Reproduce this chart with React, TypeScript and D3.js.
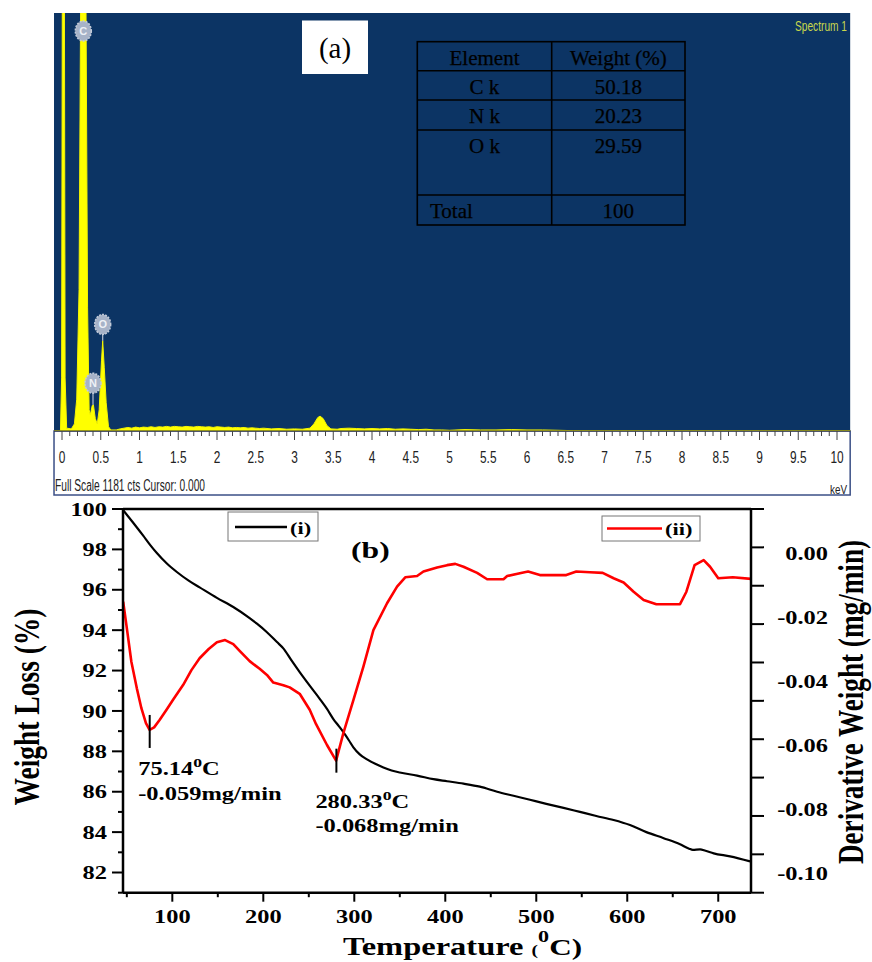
import React from 'react';
import * as d3 from 'd3';

// ---------------- DATA ----------------
// (a) EDS spectrum: [keV, counts]
const EDS_SPECTRUM: [number, number][] = [
  [-0.1, 0], [-0.02, 0], [-0.005, 150], [0.005, 1400], [0.03, 1400], [0.04, 150], [0.06, 8], [0.12, 6],
  [0.16, 20], [0.19, 90], [0.22, 400], [0.245, 1400], [0.305, 1400], [0.33, 350], [0.35, 60], [0.365, 45],
  [0.39, 72], [0.405, 74], [0.43, 35], [0.455, 20], [0.48, 60], [0.51, 200], [0.525, 255], [0.545, 180],
  [0.57, 80], [0.6, 12], [0.63, 3], [0.7, 3], [0.75, 6],
  [0.8, 8], [0.85, 10], [0.9, 8], [0.95, 11], [1.0, 9], [1.05, 11], [1.1, 10], [1.15, 12], [1.2, 10],
  [1.25, 12], [1.3, 11], [1.35, 13], [1.4, 11], [1.45, 13], [1.5, 12], [1.55, 11], [1.6, 13], [1.65, 12],
  [1.7, 11], [1.75, 13], [1.8, 12], [1.85, 11], [1.9, 12], [1.95, 10], [2.0, 12], [2.05, 11], [2.1, 10],
  [2.15, 11], [2.2, 9], [2.25, 10], [2.3, 9], [2.35, 10], [2.4, 8], [2.45, 9], [2.5, 8], [2.55, 7], [2.6, 8],
  [2.7, 6], [2.8, 7], [2.9, 5], [3.0, 6], [3.1, 5], [3.2, 8], [3.25, 20], [3.3, 38], [3.33, 42], [3.37, 35],
  [3.42, 15], [3.47, 6], [3.55, 5], [3.6, 7], [3.7, 8], [3.8, 7], [3.9, 6], [4.0, 7], [4.1, 6], [4.2, 7],
  [4.3, 5], [4.4, 6], [4.5, 5], [4.6, 4], [4.7, 5], [4.8, 3], [4.9, 3], [5.0, 2], [5.2, 4], [5.4, 3],
  [5.6, 3], [5.8, 4], [6.0, 3], [6.2, 3], [6.4, 2], [6.6, 1], [7.0, 0.5], [8.0, 0.5], [9.0, 0.5],
  [10.0, 0.5], [10.2, 0.5],
];
const EDS_TICK_VALUES = [0, 0.5, 1, 1.5, 2, 2.5, 3, 3.5, 4, 4.5, 5, 5.5, 6, 6.5, 7, 7.5, 8, 8.5, 9, 9.5, 10];
const EDS_ELEMENTS = ['C', 'N', 'O'];
const EDS_ELEMENT_KEV = [0.275, 0.4, 0.525];
const EDS_ELEMENT_BADGE_COUNTS = [1130, 135, 301];
const EDS_FULL_SCALE = 1181;

const TABLE_HEADER = ['Element', 'Weight (%)'];
const TABLE_ELEMENTS = ['C k', 'N k', 'O k'];
const TABLE_WEIGHTS = ['50.18', '20.23', '29.59'];
const TABLE_TOTAL = ['Total', '100'];

// (b) TGA (i): [temperature °C, weight %]
const TGA_CURVE: [number, number][] = [
  [45, 100.0], [57, 99.32], [68, 98.68], [76, 98.2], [83, 97.82], [94, 97.3], [105, 96.88], [118, 96.45],
  [130, 96.12], [149, 95.6], [167, 95.15], [185, 94.6], [193, 94.32], [204, 93.9], [215, 93.41], [222, 93.1],
  [231, 92.5], [240, 91.92], [251, 91.25], [262, 90.6], [270, 90.1], [277, 89.6], [283, 89.25], [288, 88.95],
  [294, 88.55], [299, 88.2], [306, 87.85], [314, 87.6], [323, 87.38], [332, 87.2], [341, 87.05], [350, 86.95],
  [369, 86.8], [387, 86.62], [402, 86.52], [420, 86.4], [438, 86.25], [457, 86.0], [475, 85.8], [493, 85.6],
  [511, 85.4], [530, 85.2], [548, 85.0], [566, 84.8], [585, 84.6], [603, 84.35], [621, 84.0], [640, 83.7],
  [658, 83.4], [668, 83.18], [672, 83.12], [680, 83.15], [686, 83.08], [695, 82.95], [713, 82.8], [735, 82.55],
];
// (b) DTG (ii): [temperature °C, derivative weight mg/min]
const DTG_CURVE: [number, number][] = [
  [46, -0.0152], [50, -0.0235], [55, -0.034], [61, -0.0423], [66, -0.0485], [71, -0.0532], [75, -0.0553],
  [80, -0.0545], [86, -0.0522], [94, -0.0488], [101, -0.0458], [112, -0.0412], [121, -0.0366], [130, -0.0329],
  [140, -0.03], [149, -0.0279], [158, -0.0272], [167, -0.0285], [174, -0.0306], [185, -0.0338], [196, -0.0362],
  [204, -0.0381], [211, -0.0405], [222, -0.0413], [229, -0.042], [240, -0.044], [251, -0.049], [258, -0.0535],
  [270, -0.06], [280, -0.0649], [288, -0.0563], [299, -0.046], [310, -0.0355], [321, -0.0241], [336, -0.0157],
  [347, -0.0105], [356, -0.0076], [369, -0.0072], [376, -0.0058], [391, -0.0045], [402, -0.0038], [411, -0.0034],
  [420, -0.0043], [435, -0.0062], [446, -0.0082], [464, -0.0082], [468, -0.0072], [482, -0.0063], [491, -0.0058],
  [504, -0.0069], [533, -0.0069], [544, -0.0058], [559, -0.006], [573, -0.0062], [585, -0.0079], [596, -0.0092],
  [607, -0.0121], [618, -0.0147], [632, -0.016], [658, -0.016], [665, -0.0121], [674, -0.0038], [684, -0.0022],
  [691, -0.0043], [700, -0.0079], [716, -0.0076], [736, -0.0081],
];
const TEMP_TICKS = [100, 200, 300, 400, 500, 600, 700];
const TEMP_MINOR_TICKS = [50, 150, 250, 350, 450, 550, 650];
const WEIGHT_TICKS = [82, 84, 86, 88, 90, 92, 94, 96, 98, 100];
const WEIGHT_MINOR_TICKS = [81, 83, 85, 87, 89, 91, 93, 95, 97, 99];
const DERIV_LABEL_VALUES = [0, -0.02, -0.04, -0.06, -0.08, -0.1];
const DERIV_TICK_MARKS = [0.01, 0, -0.01, -0.02, -0.03, -0.04, -0.05, -0.06, -0.07, -0.08, -0.09];
const PEAK_TEMPS = [75.14, 280.33];
const PEAK_TEMP_LABELS = ['75.14', '280.33'];
const PEAK_RATE_LABELS = ['-0.059mg/min', '-0.068mg/min'];
const LEGEND_LABELS = ['(i)', '(ii)'];

// ---------------- STYLE / LAYOUT ----------------
const SERIF = "'Liberation Serif','Times New Roman',Times,serif";
const SANS = "'Liberation Sans',Arial,Helvetica,sans-serif";
const SX = 1.32;
const EDS_BLUE = '#0c3464';
const YELLOW = '#ffff00';

const PEAK_LAYOUT = [
  { up: 15, down: 18, dx: -11.5, dy1: 27, dy2: 52 },
  { up: 12, down: 12, dx: -21, dy1: 35, dy2: 59 },
];

function BText(props: {
  x: number; y: number; size: number; anchor?: string; sx?: number; rotate?: number;
  dy?: string; weight?: string; fill?: string; children: React.ReactNode;
}) {
  const { x, y, size, anchor = 'start', sx = SX, rotate = 0, dy, weight = 'bold', fill = '#000', children } = props;
  return (
    <g transform={`translate(${x},${y}) scale(${sx},1)${rotate ? ` rotate(${rotate})` : ''}`}>
      <text x={0} y={0} dy={dy} textAnchor={anchor as any} fontSize={size} fontFamily={SERIF} fontWeight={weight} fill={fill}>
        {children}
      </text>
    </g>
  );
}

export default function App() {
  // ---- panel (a) scales
  const eX = d3.scaleLinear().domain([0, 10]).range([62, 837]);
  const eY = d3.scaleLinear().domain([0, EDS_FULL_SCALE]).range([431, 13]);
  const edsLeft = eX(-0.103);
  const edsRight = eX(10.17);
  const edsArea = d3.area<[number, number]>()
    .x((d) => eX(d[0]))
    .y0(eY(0))
    .y1((d) => eY(d[1]));
  const minorTicks = eX.ticks(100);

  // ---- panel (b) scales
  const tX = d3.scaleLinear().domain([45.8, 736]).range([123, 751]);
  const wY = d3.scaleLinear().domain([81, 100]).range([892.7, 509]);
  const dY = d3.scaleLinear().domain([-0.10616, 0.01375]).range([892.7, 509]);
  const dTickY = d3.scaleLinear().domain([-0.09, 0.01]).range([892.7, 509]);
  const [pL, pR] = tX.range();
  const [pB, pT] = wY.range();

  const tgaLine = d3.line<[number, number]>().x((d) => tX(d[0])).y((d) => wY(d[1])).curve(d3.curveMonotoneX);
  const dtgLine = d3.line<[number, number]>().x((d) => tX(d[0])).y((d) => dY(d[1]));

  const tableCols = [417.3, 551.7, 685];
  const tableRows = [41.7, 70.7, 100, 130, 195, 225];

  return (
    <svg width={872} height={962} viewBox="0 0 872 962"
      style={{ position: 'absolute', left: 0, top: 0, background: '#fff' }}>
      <defs>
        <clipPath id="edsClip">
          <rect x={edsLeft} y={eY(EDS_FULL_SCALE)} width={edsRight - edsLeft} height={eY(0) - eY(EDS_FULL_SCALE)} />
        </clipPath>
        <clipPath id="tgaClip">
          <rect x={pL} y={pT} width={pR - pL} height={pB - pT} />
        </clipPath>
      </defs>

      {/* ================= (a) EDS ================= */}
      <rect x={edsLeft} y={eY(EDS_FULL_SCALE)} width={edsRight - edsLeft} height={eY(0) - eY(EDS_FULL_SCALE)} fill={EDS_BLUE} />
      <rect x={edsLeft} y={eY(0)} width={edsRight - edsLeft} height={495 - eY(0)} fill="#fff" stroke="#3b4f86" strokeWidth={1.5} />
      <g clipPath="url(#edsClip)">
        <path d={edsArea(EDS_SPECTRUM) || ''} fill={YELLOW} stroke="#f4f400" strokeWidth={1} />
      </g>
      {/* element badges */}
      {EDS_ELEMENTS.map((el, i) => {
        const cx = eX(EDS_ELEMENT_KEV[i]);
        const cy = eY(EDS_ELEMENT_BADGE_COUNTS[i]);
        const near = EDS_SPECTRUM.filter((d) => Math.abs(d[0] - EDS_ELEMENT_KEV[i]) < 0.03);
        const peak = d3.max(near, (d) => d[1]) || 0;
        return (
          <g key={el}>
            <line x1={cx} x2={cx} y1={cy + 9} y2={Math.max(eY(peak), cy + 9)} stroke="#b8c2d4" strokeWidth={1.2} />
            <ellipse cx={cx} cy={cy} rx={8} ry={10} fill="#a7b3c8" stroke="#c3cbd9" strokeWidth={1.5} strokeDasharray="2 1.2" />
            <text x={cx} y={cy} dy="0.36em" textAnchor="middle" fontSize={11} fontWeight="bold" fontFamily={SANS} fill="#eef1f6">{el}</text>
          </g>
        );
      })}
      {/* EDS axis */}
      <line x1={edsLeft} x2={edsRight} y1={eY(0)} y2={eY(0)} stroke="#333" strokeWidth={1.2} />
      {minorTicks.map((v, i) => {
        const major = Math.abs(v * 2 - Math.round(v * 2)) < 1e-6;
        return <line key={i} x1={eX(v)} x2={eX(v)} y1={eY(0)} y2={eY(0) + (major ? 9 : 5)} stroke="#444" strokeWidth={1} />;
      })}
      {EDS_TICK_VALUES.map((v) => (
        <g key={v} transform={`translate(${eX(v)},463) scale(0.72,1)`}>
          <text textAnchor="middle" fontSize={16.5} fontFamily={SANS} fill="#222">{String(v)}</text>
        </g>
      ))}
      <text x={55} y={491} fontSize={16} fontFamily={SANS} fill="#222" textLength={150} lengthAdjust="spacingAndGlyphs">
        {`Full Scale ${EDS_FULL_SCALE} cts Cursor: 0.000`}
      </text>
      <text x={830} y={494} fontSize={13} fontFamily={SANS} fill="#222" textLength={17} lengthAdjust="spacingAndGlyphs">keV</text>
      <text x={795} y={30.5} fontSize={15} fontFamily={SANS} fill="#c8d84c" textLength={52} lengthAdjust="spacingAndGlyphs">Spectrum 1</text>

      {/* (a) label */}
      <rect x={302} y={20.5} width={66} height={53.5} fill="#fff" />
      <text x={335} y={58} textAnchor="middle" fontSize={29} fontFamily={SERIF} fill="#000">(a)</text>

      {/* table */}
      <g stroke="#000" strokeWidth={1.6} fill="none">
        <rect x={tableCols[0]} y={tableRows[0]} width={tableCols[2] - tableCols[0]} height={tableRows[5] - tableRows[0]} />
        <line x1={tableCols[1]} x2={tableCols[1]} y1={tableRows[0]} y2={tableRows[5]} />
        {tableRows.slice(1, 5).map((r, i) => (
          <line key={i} x1={tableCols[0]} x2={tableCols[2]} y1={r} y2={r} />
        ))}
      </g>
      <g fontFamily={SERIF} fontSize={21} fill="#000" stroke="#000" strokeWidth={0.25}>
        <text x={(tableCols[0] + tableCols[1]) / 2} y={tableRows[0] + 23} textAnchor="middle">{TABLE_HEADER[0]}</text>
        <text x={(tableCols[1] + tableCols[2]) / 2} y={tableRows[0] + 23} textAnchor="middle">{TABLE_HEADER[1]}</text>
        {TABLE_ELEMENTS.map((el, i) => (
          <g key={el}>
            <text x={(tableCols[0] + tableCols[1]) / 2} y={tableRows[i + 1] + 22.8} textAnchor="middle">{el}</text>
            <text x={(tableCols[1] + tableCols[2]) / 2} y={tableRows[i + 1] + 22.8} textAnchor="middle">{TABLE_WEIGHTS[i]}</text>
          </g>
        ))}
        <text x={tableCols[0] + 12.7} y={tableRows[4] + 23} textAnchor="start">{TABLE_TOTAL[0]}</text>
        <text x={(tableCols[1] + tableCols[2]) / 2} y={tableRows[4] + 23} textAnchor="middle">{TABLE_TOTAL[1]}</text>
      </g>

      {/* ================= (b) TGA / DTG ================= */}
      <g clipPath="url(#tgaClip)">
        <path d={tgaLine(TGA_CURVE) || ''} fill="none" stroke="#000" strokeWidth={2.2} />
        <path d={dtgLine(DTG_CURVE) || ''} fill="none" stroke="#ff0000" strokeWidth={2.6} strokeLinejoin="round" />
      </g>

      {/* frame / axes */}
      <g stroke="#000" strokeWidth={2.5} fill="none">
        <line x1={pL} x2={pR} y1={pT} y2={pT} />
        <line x1={pL} x2={pR} y1={pB} y2={pB} />
        <line x1={pL} x2={pL} y1={pT} y2={pB} />
        <line x1={pR} x2={pR} y1={pT} y2={pB} />
      </g>
      <g stroke="#000" strokeWidth={2}>
        {WEIGHT_TICKS.map((v) => <line key={v} x1={pL - 11} x2={pL} y1={wY(v)} y2={wY(v)} />)}
        {WEIGHT_MINOR_TICKS.map((v) => <line key={v} x1={pL - 5} x2={pL} y1={wY(v)} y2={wY(v)} />)}
        {TEMP_TICKS.map((v) => <line key={v} x1={tX(v)} x2={tX(v)} y1={pB} y2={pB + 9} />)}
        {TEMP_MINOR_TICKS.map((v) => <line key={v} x1={tX(v)} x2={tX(v)} y1={pB} y2={pB + 4.5} />)}
        {DERIV_TICK_MARKS.map((v) => <line key={v} x1={pR} x2={pR + 13} y1={dTickY(v)} y2={dTickY(v)} />)}
      </g>
      {WEIGHT_TICKS.map((v) => (
        <BText key={v} x={107} y={wY(v)} dy="0.36em" size={18.5} anchor="end">{String(v)}</BText>
      ))}
      {TEMP_TICKS.map((v) => (
        <BText key={v} x={tX(v)} y={922.5} size={18.5} anchor="middle">{String(v)}</BText>
      ))}
      {DERIV_LABEL_VALUES.map((v) => (
        <BText key={v} x={828} y={dY(v)} dy="0.36em" size={18.5} anchor="end">{d3.format('.2f')(v).replace('−', '-')}</BText>
      ))}

      {/* axis titles */}
      <BText x={343} y={955} size={25} anchor="start" sx={1.3}>
        Temperature <tspan fontSize={15}>(</tspan>
        <tspan fontSize={17} dy={-13}>0</tspan>
        <tspan fontSize={24} dy={13}>C)</tspan>
      </BText>
      <BText x={39} y={707} size={27.5} anchor="middle" sx={1.3} rotate={-90}>Weight Loss (%)</BText>
      <BText x={863} y={702} size={27.2} anchor="middle" sx={1.35} rotate={-90}>Derivative Weight (mg/min)</BText>

      {/* (b) label */}
      <BText x={351} y={558} size={24}>(b)</BText>

      {/* legends */}
      <rect x={228} y={512} width={90} height={29} fill="#fff" stroke="#777" strokeWidth={1} />
      <line x1={235} x2={287} y1={527} y2={527} stroke="#000" strokeWidth={2.5} />
      <BText x={290} y={533.5} size={17}>{LEGEND_LABELS[0]}</BText>
      <rect x={602} y={516} width={98} height={25} fill="#fff" stroke="#777" strokeWidth={1} />
      <line x1={607} x2={662} y1={528.5} y2={528.5} stroke="#ff0000" strokeWidth={2.5} />
      <BText x={665} y={535} size={17}>{LEGEND_LABELS[1]}</BText>

      {/* peak annotations */}
      {PEAK_TEMPS.map((t, i) => {
        const nearest = DTG_CURVE.reduce((a, b) => (Math.abs(b[0] - t) < Math.abs(a[0] - t) ? b : a));
        const x = tX(t);
        const y = dY(nearest[1]);
        const L = PEAK_LAYOUT[i];
        const bottom = y + L.down;
        return (
          <g key={t}>
            <line x1={x} x2={x} y1={y - L.up} y2={bottom} stroke="#000" strokeWidth={2} />
            <BText x={x + L.dx} y={bottom + L.dy1} size={18} sx={1.36}>
              {PEAK_TEMP_LABELS[i]}
              <tspan fontSize={13} dy={-8}>0</tspan>
              <tspan dy={8}>C</tspan>
            </BText>
            <BText x={x + L.dx} y={bottom + L.dy2} size={18} sx={1.36}>{PEAK_RATE_LABELS[i]}</BText>
          </g>
        );
      })}
    </svg>
  );
}
